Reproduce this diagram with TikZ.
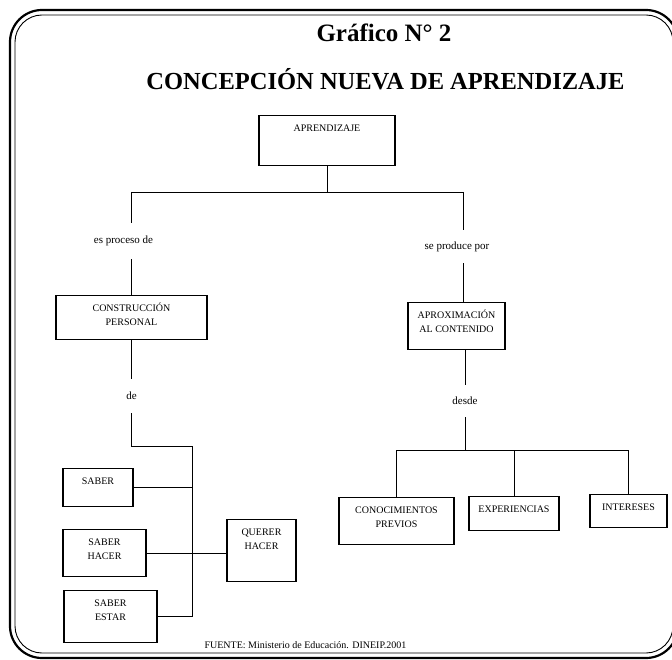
\documentclass[tikz,border=0pt]{standalone}
\usepackage{fontspec}
\setmainfont{Liberation Serif}
\usetikzlibrary{positioning}

\begin{document}
\begin{tikzpicture}[x=1pt, y=-1pt, line width=0.9pt,
  box/.style 2 args={draw, line width=1.1pt, align=center, inner sep=0pt, anchor=north,
    font=\fontsize{10}{13.5}\selectfont, minimum width=#1, text height=16.3pt, text depth=#2},
  box2/.style 2 args={box={#1}{#2}, text height=29.8pt},
  lbl/.style={font=\fontsize{11}{13}\selectfont, inner sep=0pt, minimum height=#1},
  ttl/.style={font=\bfseries\fontsize{25}{30}\selectfont, anchor=base}]
\useasboundingbox (0,0) rectangle (672,660);
% double frame
\draw[line width=2.2pt, rounded corners=32pt] (10,10) rectangle (678,658);
\draw[line width=0.9pt, rounded corners=27pt] (15,15) rectangle (673,653);
% titles
\node[ttl] (graf) at (384,42) {Gráfico N° 2};
\node[ttl, font=\bfseries\fontsize{24.5}{29}\selectfont] (tit) at (385.5,90) {CONCEPCIÓN NUEVA DE APRENDIZAJE};
% boxes
\node[box={136pt}{33.7pt}] (apr) at (327,115) {APRENDIZAJE};
\node[box2={151pt}{14.5pt}] (cons) at (131.5,295) {CONSTRUCCIÓN\\PERSONAL};
\node[box2={97pt}{17.2pt}] (aprox) at (456.5,302) {APROXIMACIÓN\\AL CONTENIDO};
\node[box2={115pt}{17.2pt}] (conoc) at (396.5,497) {CONOCIMIENTOS\\PREVIOS};
\node[box={90pt}{17.7pt}] (exper) at (514,496) {EXPERIENCIAS};
\node[box={77pt}{16.7pt}] (inter) at (628.5,494) {INTERESES};
\node[box={70pt}{21.7pt}] (saber) at (98,468) {SABER};
\node[box2={83pt}{17.2pt}] (hacer) at (104.5,529) {SABER\\HACER};
\node[box2={69pt}{32.2pt}] (querer) at (261.5,519) {QUERER\\HACER};
\node[box2={93pt}{22.2pt}] (estar) at (110.5,590) {SABER\\ESTAR};
% link words
\node[lbl=36pt] (proc) at (123.5,241) {es proceso de};
\node[lbl=33pt] (prod) at (457,246.5) {se produce por};
\node[lbl=34pt] (de) at (131.5,396) {de};
\node[lbl=32pt] (desde) at (465,401) {desde};
% branch points
\coordinate (trunk) at (327,192);
\coordinate (lsplit) at (131.5,192);
\coordinate (rsplit) at (463,192);
\coordinate (lbend) at (131.5,446);
\coordinate (spine) at (192,446);
\coordinate (rbar) at (465,450);
% connectors
\draw (apr.south) -- (trunk);
\draw (lsplit) -- (rsplit);
\draw (lsplit) -- (proc.north -| lsplit);
\draw (proc.south -| lsplit) -- (cons.north);
\draw (rsplit) -- (prod.north -| rsplit);
\draw (prod.south -| rsplit) -- (aprox.north -| rsplit);
\draw (cons.south) -- (de.north);
\draw (de.south) -- (lbend) -- (spine) -- (spine |- estar.east) -- (estar.east);
\draw (saber.east) -- (saber.east -| spine);
\draw (hacer.east) -- (hacer.east -| querer.west);
\draw (aprox.south -| desde) -- (desde.north);
\draw (desde.south) -- (rbar);
\draw (conoc.north |- rbar) -- (inter.north |- rbar);
\foreach \n in {conoc,exper,inter}
  \draw (\n.north |- rbar) -- (\n.north);
% source
\node[font=\fontsize{10}{12}\selectfont, anchor=base] (fuente) at (305.5,648.5) {FUENTE: Ministerio de Educación. DINEIP.2001};
\end{tikzpicture}
\end{document}
